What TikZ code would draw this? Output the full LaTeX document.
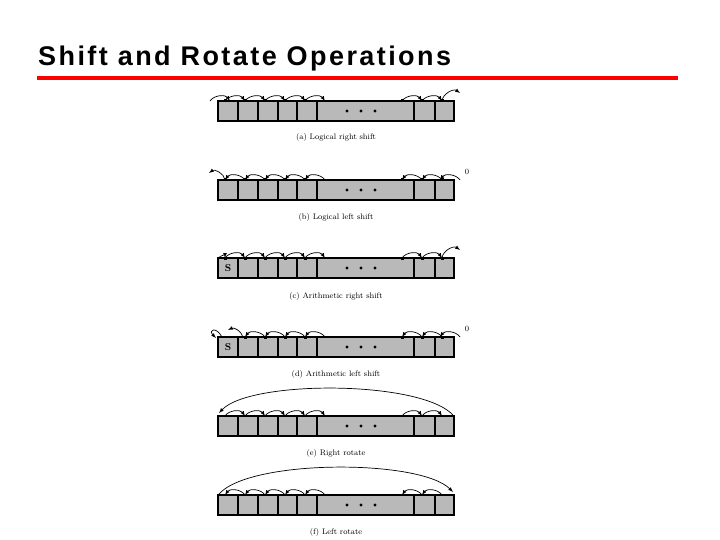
\documentclass[tikz,border=0pt]{standalone}
\usepackage{fontspec}
\newfontfamily\titlefont[LetterSpace=9]{Liberation Sans}
\tikzset{
  cell/.style={draw=black, fill=gray!55, line width=1.2pt},
  hop/.style={-latex, line width=0.7pt},
  bitmark/.style={fill=black},
  caption/.style={font=\fontsize{8}{9}\selectfont, anchor=center}
}
% register outline with cells
\newcommand{\register}[1]{%
  \foreach \xa/\xb in {218/238,238/258,258/278,278/297,297/317,317/414,414/435,435/454}
    \draw[cell] (\xa,#1) rectangle (\xb,#1+20);
  \foreach \xd in {347,361,375} \fill (\xd,#1+10) circle (1.6);
}
\begin{document}
\begin{tikzpicture}[x=1pt,y=-1pt]
\useasboundingbox (0,0) rectangle (720,540);
\node[anchor=base west, inner sep=0pt, font=\titlefont\bfseries\fontsize{27}{30}\selectfont] (title) at (38,66) {Shift and Rotate Operations};
\fill[red] (37,76) rectangle (678,80);

% (a) logical right shift
\register{101}
\foreach \xs in {225,245,265,285,305,402,422,442}
  \fill[bitmark] (\xs-1.5,101-1.5) rectangle (\xs+1.5,101+1.5);
\foreach \xs in {210,225,245,265,285,305,402,422}
  \draw[hop] (\xs,101) to[bend left=55] (\xs+20,101);
\draw[hop] (442,101) to[bend left=60] (460,93);
\node[caption] (capa) at (336,138) {(a) Logical right shift};

% (b) logical left shift
\register{180}
\foreach \xs in {225,245,265,285,305,402,422,442}
  \fill[bitmark] (\xs-1.5,180-1.5) rectangle (\xs+1.5,180+1.5);
\foreach \xs in {245,265,285,305,325,422,442,460}
  \draw[hop] (\xs,180) to[bend right=55] (\xs-20,180);
\draw[hop] (225,180) to[bend right=60] (209,173);
\node[font=\fontsize{8}{9}\selectfont] (zb) at (467,172) {0};
\node[caption] (capb) at (336,217) {(b) Logical left shift};

% (c) arithmetic right shift
\register{258}
\node[font=\fontsize{10}{11}\selectfont\bfseries] (sc) at (228,268) {S};
\foreach \xs in {225,245,265,285,305,402,422,442}
  \fill[bitmark] (\xs-1.5,258-1.5) rectangle (\xs+1.5,258+1.5);
\draw[hop] (219,258) to[bend left=90] (225,258);
\foreach \xs in {225,245,265,285,305,402,422}
  \draw[hop] (\xs,258) to[bend left=55] (\xs+20,258);
\draw[hop] (442,258) to[bend left=60] (460,250);
\node[caption] (capc) at (336,296) {(c) Arithmetic right shift};

% (d) arithmetic left shift
\register{337}
\node[font=\fontsize{10}{11}\selectfont\bfseries] (sd) at (228,347) {S};
\foreach \xs in {245,265,285,305,402,422,442}
  \fill[bitmark] (\xs-1.5,337-1.5) rectangle (\xs+1.5,337+1.5);
\foreach \xs in {265,285,305,325,422,442,460}
  \draw[hop] (\xs,337) to[bend right=55] (\xs-20,337);
\draw[hop] (243,337) to[bend right=50] (228,330);
\draw[hop] (222,337) .. controls (216,326) and (208,330) .. (216,338);
\node[font=\fontsize{8}{9}\selectfont] (zd) at (467,329) {0};
\node[caption] (capd) at (336,374) {(d) Arithmetic left shift};

% (e) right rotate
\register{416}
\foreach \xs in {225,245,265,285,305,402,422}
  \draw[hop] (\xs,416) to[bend left=55] (\xs+20,416);
\draw[hop] (453,415) .. controls (420,380) and (250,380) .. (219,413);
\node[caption] (cape) at (336,453) {(e) Right rotate};

% (f) left rotate
\register{495}
\foreach \xs in {245,265,285,305,325,422,442}
  \draw[hop] (\xs,495) to[bend right=55] (\xs-20,495);
\draw[hop] (219,494) .. controls (250,459) and (420,459) .. (453,492);
\node[caption] (capf) at (336,532) {(f) Left rotate};
\end{tikzpicture}
\end{document}
